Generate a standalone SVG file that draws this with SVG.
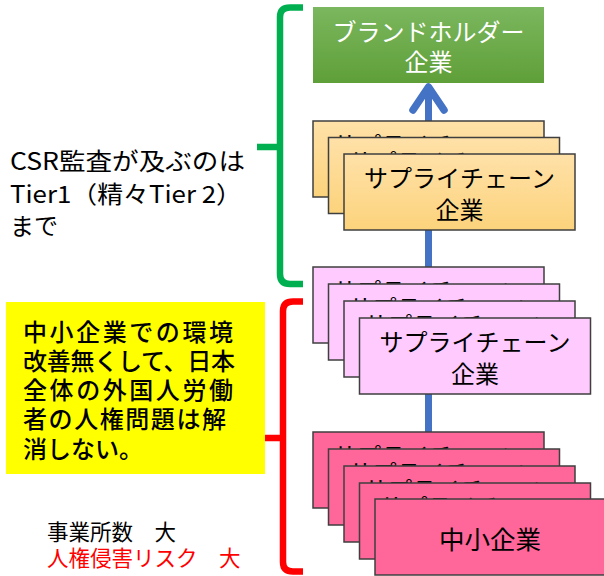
<svg xmlns="http://www.w3.org/2000/svg" width="604" height="576" viewBox="0 0 604 576">
<defs>
<linearGradient id="gGreen" x1="0" y1="0" x2="0" y2="1"><stop offset="0" stop-color="#7bb75e"/><stop offset="1" stop-color="#5f9f38"/></linearGradient>
<linearGradient id="gOrange" x1="0" y1="0" x2="0" y2="1"><stop offset="0" stop-color="#ffe1a8"/><stop offset="1" stop-color="#fcd37c"/></linearGradient>
<style>
text{font-family:"Noto Sans CJK JP","Noto Sans",sans-serif;}
.box{stroke:#3f3f3f;stroke-width:1.5;}
.or{fill:url(#gOrange);}
.pk{fill:#ffcbff;}
.rd{fill:#ff6699;}
.bt{font-size:24px;fill:#000;text-anchor:middle;}
.wt{font-size:24px;fill:#fff;text-anchor:middle;}
.brace{fill:none;stroke-width:6.5;stroke-linejoin:round;}
.lbl{font-size:24px;fill:#000;}
</style>
</defs>
<rect width="604" height="576" fill="#fff"/>

<g id="connectors">
<line x1="428.5" y1="90" x2="428.5" y2="433" stroke="#4472c4" stroke-width="7"/>
<polyline points="413,110 428.5,87 444,110" fill="none" stroke="#4472c4" stroke-width="7.5" stroke-linecap="round" stroke-linejoin="round"/>
</g>

<g id="brand">
<rect x="313" y="7" width="231" height="76" fill="url(#gGreen)"/>
<text class="wt" x="428.5" y="40.5">ブランドホルダー</text>
<text class="wt" x="428.5" y="71">企業</text>
</g>

<g id="tier1">
<g><rect class="box or" x="313" y="121" width="231" height="76"/><text class="bt" x="428.5" y="154">サプライチェーン</text></g>
<g><rect class="box or" x="328.5" y="137.5" width="231" height="76"/><text class="bt" x="444" y="170.5">サプライチェーン</text></g>
<g><rect class="box or" x="344" y="154" width="231" height="76"/><text class="bt" x="459.5" y="187">サプライチェーン</text><text class="bt" x="459.5" y="219">企業</text></g>
</g>

<g id="tier2">
<g><rect class="box pk" x="313" y="267" width="231" height="76"/><text class="bt" x="428.5" y="300">サプライチェーン</text></g>
<g><rect class="box pk" x="328.5" y="284" width="231" height="76"/><text class="bt" x="444" y="317">サプライチェーン</text></g>
<g><rect class="box pk" x="344" y="301" width="231" height="76"/><text class="bt" x="459.5" y="334">サプライチェーン</text></g>
<g><rect class="box pk" x="359.5" y="318" width="231" height="76"/><text class="bt" x="475" y="351">サプライチェーン</text><text class="bt" x="475" y="383">企業</text></g>
</g>

<g id="sme">
<g><rect class="box rd" x="313" y="432" width="231" height="76"/><text class="bt" x="428.5" y="465">サプライチェーン</text></g>
<g><rect class="box rd" x="328.5" y="449" width="231" height="76"/><text class="bt" x="444" y="482">サプライチェーン</text></g>
<g><rect class="box rd" x="344" y="466" width="231" height="76"/><text class="bt" x="459.5" y="499">サプライチェーン</text></g>
<g><rect class="box rd" x="359.5" y="483" width="231" height="76"/><text class="bt" x="475" y="516">サプライチェーン</text></g>
<g><rect class="box rd" x="375" y="499" width="231" height="76"/><text class="bt" x="490" y="549" style="font-size:25.5px">中小企業</text></g>
</g>

<g id="brace-green">
<path class="brace" stroke="#00b050" d="M303,7.5 H290 Q280,7.5 280,17 V147 H257 M280,147 V274 Q280,284 290,284 H303"/>
</g>

<g id="brace-red">
<path class="brace" stroke="#ff0000" d="M303,301.5 H293 Q283,301.5 283,311 V438 H257 M283,438 V562 Q283,571.5 293,571.5 H303"/>
</g>

<g id="csr-label">
<text class="lbl" x="10" y="170" textLength="235" lengthAdjust="spacingAndGlyphs">CSR監査が及ぶのは</text>
<text class="lbl" x="10" y="203" textLength="232" lengthAdjust="spacingAndGlyphs">Tier1（精々Tier 2）</text>
<text class="lbl" x="10" y="235">まで</text>
</g>

<g id="note">
<rect x="6" y="302" width="259" height="172" fill="#ffff00"/>
<text class="lbl" x="23" y="340.5" textLength="210" font-weight="500">中小企業での環境</text>
<text class="lbl" x="23" y="369.5" textLength="212" font-weight="500">改善無くして、日本</text>
<text class="lbl" x="23" y="398.5" textLength="210" font-weight="500">全体の外国人労働</text>
<text class="lbl" x="23" y="428" textLength="203" font-weight="500">者の人権問題は解</text>
<text class="lbl" x="23" y="458" font-weight="500">消しない。</text>
</g>

<g id="risk">
<text x="47" y="540" style="font-size:21.5px;fill:#000">事業所数　大</text>
<text x="47" y="566" style="font-size:21.5px;fill:#ff0000">人権侵害リスク　大</text>
</g>
</svg>
